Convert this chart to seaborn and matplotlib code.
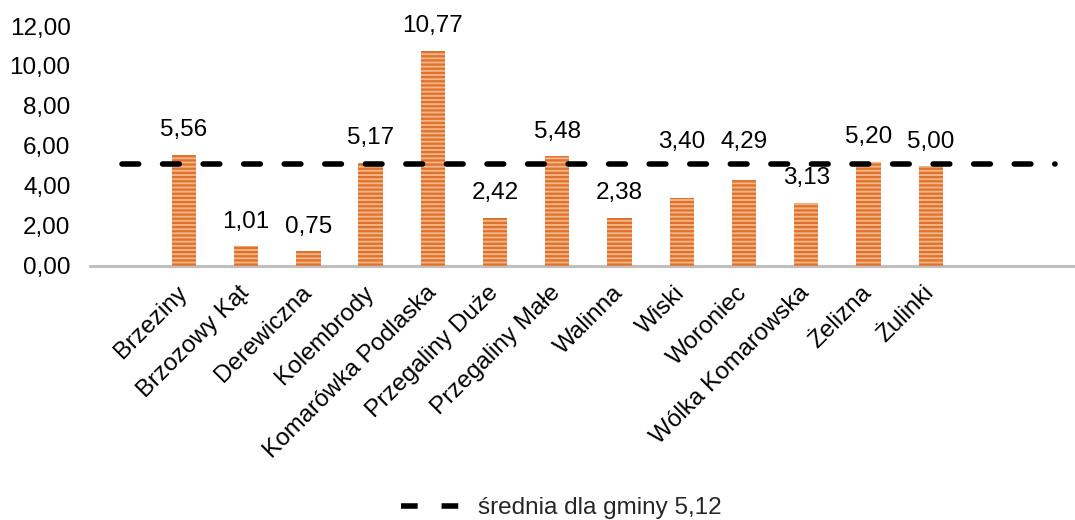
import numpy as np
import pandas as pd
import matplotlib
matplotlib.use("Agg")
import matplotlib.pyplot as plt
import seaborn as sns
from matplotlib.ticker import FuncFormatter, MultipleLocator

# dane
miejscowosci = ['Brzeziny', 'Brzozowy Kąt', 'Derewiczna', 'Kolembrody', 'Komarówka Podlaska',
                'Przegaliny Duże', 'Przegaliny Małe', 'Walinna', 'Wiski', 'Woroniec',
                'Wólka Komarowska', 'Żelizna', 'Żulinki']
wartosci = [5.56, 1.01, 0.75, 5.17, 10.77, 2.42, 5.48, 2.38, 3.40, 4.29, 3.13, 5.20, 5.00]
srednia = 5.12
srednia_label = 'średnia dla gminy 5,12'

# przesunięcie etykiet nad słupkami (px)
label_shift = [24.5, 24, 24, 24.5, 25, 24.5, 24.5, 25, 56, 38.5, 25, 25, 24]

df = pd.DataFrame({'miejscowosc': miejscowosci, 'wartosc': wartosci})

sns.set_theme(style='white')
plt.rcParams['font.family'] = ['Liberation Sans', 'DejaVu Sans']
plt.rcParams['hatch.linewidth'] = 1.6

FS = 17.5

fig = plt.figure(figsize=(10.75, 5.2), dpi=100)
ax = fig.add_axes([0.0837, 0.4885, 0.9163, 0.4615])

sns.barplot(data=df, x='miejscowosc', y='wartosc', color='#F2B585', width=0.39,
            saturation=1, ax=ax, zorder=2)
for p in ax.patches:
    p.set_hatch('----')
    p.set_edgecolor('#E0702C')
    p.set_linewidth(0)

ax.hlines(srednia, -1, 14, colors='black', linewidth=4, linestyles=(0, (3.0, 4.3)),
          zorder=3, label=srednia_label)
for coll in ax.collections:
    coll.set_capstyle('round')

for i, v in enumerate(wartosci):
    ax.annotate(f'{v:.2f}'.replace('.', ','), (i, v), xytext=(0, label_shift[i] * 0.72),
                textcoords='offset points', ha='center', va='center', fontsize=FS,
                color='#000000')

ax.set_xlim(-1.51, 14.32)
ax.set_ylim(0, 12)
ax.yaxis.set_major_locator(MultipleLocator(2))
ax.yaxis.set_major_formatter(FuncFormatter(lambda y, _: f'{y:.2f}'.replace('.', ',')))
ax.set_xlabel('')
ax.set_ylabel('')
ax.tick_params(axis='y', length=0, pad=14, labelsize=FS, labelcolor='black')
ax.tick_params(axis='x', length=0, pad=17, labelsize=FS, labelcolor='black')
plt.setp(ax.get_xticklabels(), rotation=45, ha='right', va='center', rotation_mode='anchor')

for s in ['top', 'right', 'left']:
    ax.spines[s].set_visible(False)
ax.spines['bottom'].set_color('#BFBFBF')
ax.spines['bottom'].set_linewidth(2.2)
ax.spines['bottom'].set_zorder(1)

leg = fig.legend(loc='center', bbox_to_anchor=(0.522, 0.023), frameon=False, fontsize=FS,
                 handlelength=2.55, handletextpad=0.6)

fig.savefig('out.png', dpi=100)
